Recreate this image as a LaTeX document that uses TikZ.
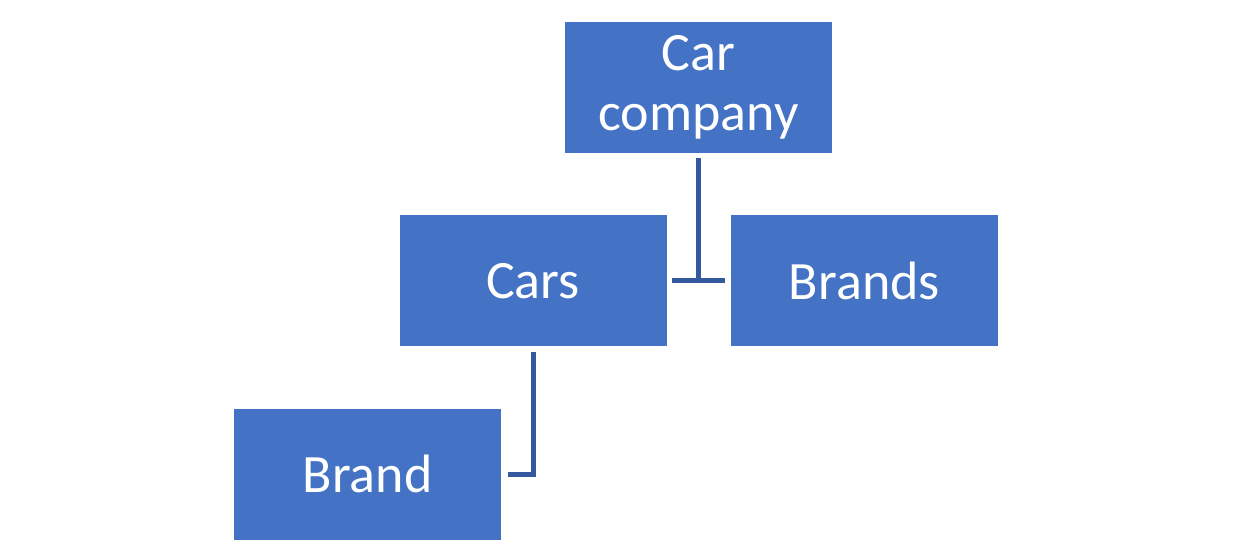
\documentclass[tikz,border=0pt]{standalone}
\usepackage{fontspec}
\setmainfont{Carlito}
\usepackage{xcolor}
\definecolor{myblu1}{HTML}{4472C4}
\definecolor{myblu2}{HTML}{34599E}
\usepackage{tikz}
\usetikzlibrary{positioning}
\tikzstyle{box} = [rectangle, minimum width=267pt, minimum height=131pt, inner sep=0pt, text centered, fill=myblu1, text=white, font=\fontsize{54}{60}\selectfont]
\tikzstyle{conn} = [line width=5pt, myblu2]
\begin{document}
\begin{tikzpicture}[align=center,x=1pt,y=1pt]
	\useasboundingbox (0,0) rectangle (1237,-550);
	\node (company)[box] at (698.5,-87.5){Car\\company};
	\node (cars)[box, below=62pt of company, xshift=-165.5pt]{Cars};
	\node (brands)[box, right=64pt of cars]{Brands};
	\node (brand)[box, below=62pt of cars, xshift=-165.5pt]{Brand};
	\draw [conn] ([yshift=-5pt]company.south) -- (company.south |- cars.east);
	\draw [conn] ([xshift=5pt]cars.east) -- ([xshift=-6pt]brands.west);
	\draw [conn] ([yshift=-5pt]cars.south) |- ([xshift=7pt]brand.east);
\end{tikzpicture}
\end{document}
